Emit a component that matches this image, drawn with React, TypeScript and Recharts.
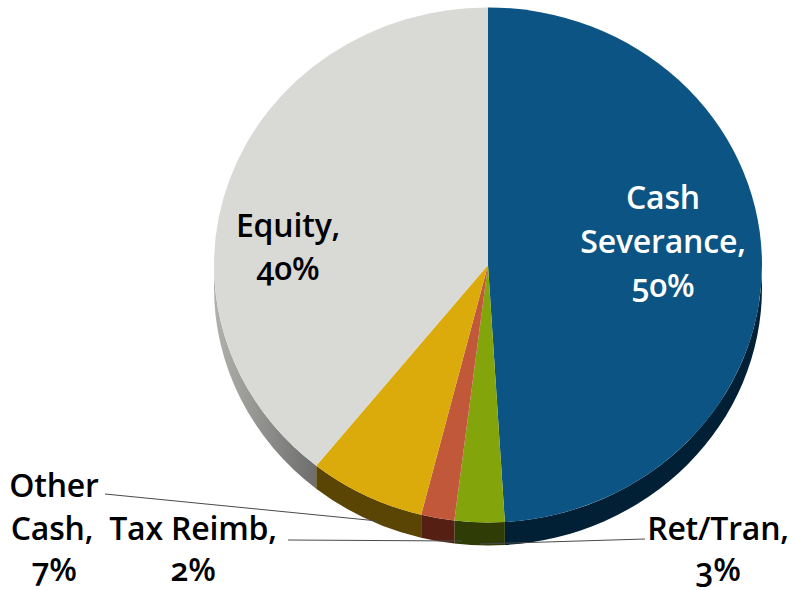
import { Pie, PieChart } from "recharts";

const categories = ["Cash Severance", "Ret/Tran", "Tax Reimb", "Other Cash", "Equity"];
const shares = [50, 3, 2, 7, 40];
const topColors = ["#0b5483", "#84a40c", "#c1583a", "#dbab0b", "#d9d9d5"];
const wallColors = ["#012036", "#2f3c05", "#552013", "#5b4505", "url(#equityWall)"];

const rows = categories.map((name, i) => ({
  name,
  value: shares[i],
  top: topColors[i],
  wall: wallColors[i],
}));

// the pie is tilted, so the face is squashed a little and sits on a thin wall
const SQUASH = 0.94;
const DEPTH = 23;
const RAD = Math.PI / 180;

function rim(cx: number, cy: number, r: number, deg: number, drop = 0) {
  return [cx + r * Math.cos(deg * RAD), cy - r * SQUASH * Math.sin(deg * RAD) + drop];
}

function FaceSlice(props: any) {
  const { cx, cy, outerRadius: r, startAngle, endAngle, payload } = props;
  const [x1, y1] = rim(cx, cy, r, startAngle);
  const [x2, y2] = rim(cx, cy, r, endAngle);
  const large = Math.abs(startAngle - endAngle) > 180 ? 1 : 0;
  const d = `M${cx},${cy}L${x1},${y1}A${r},${r * SQUASH} 0 ${large} 1 ${x2},${y2}Z`;
  return <path d={d} fill={payload.top} />;
}

// only the part of the rim facing the viewer (180..360 deg) shows a wall
function WallSlice(props: any) {
  const { cx, cy, outerRadius: r, startAngle, endAngle, payload } = props;
  const ranges: [number, number][] = [
    [startAngle, endAngle],
    [startAngle + 360, endAngle + 360],
  ];
  return (
    <g>
      {ranges.map(([hi, lo], i) => {
        const a = Math.min(hi, 360);
        const b = Math.max(lo, 180);
        if (a <= b) return null;
        const [x1, y1] = rim(cx, cy, r, a);
        const [x2, y2] = rim(cx, cy, r, b);
        const rx = r;
        const ry = r * SQUASH;
        const d = `M${x1},${y1}A${rx},${ry} 0 0 1 ${x2},${y2}L${x2},${y2 + DEPTH}A${rx},${ry} 0 0 0 ${x1},${y1 + DEPTH}Z`;
        return <path key={i} d={d} fill={payload.wall} />;
      })}
    </g>
  );
}

// text lines and leader for each slice, relative to the pie centre
const labelLayout = [
  { color: "#fff", lines: [["Cash", 175, -56], ["Severance,", 175, -12], ["50%", 175, 32]] },
  { color: "#000", lines: [["Ret/Tran,", 230, 275], ["3%", 230, 316]], leader: [157, 274, -8, 279] },
  { color: "#000", lines: [["Tax Reimb,", -295, 275], ["2%", -295, 316]], leader: [-200, 275, -26, 276] },
  { color: "#000", lines: [["Other", -434, 232], ["Cash,", -436, 275], ["7%", -434, 316]], leader: [-383, 229, -110, 256] },
  { color: "#000", lines: [["Equity,", -200, -28], ["40%", -200, 15]] },
];

function SliceLabel(props: any) {
  const { cx, cy, index } = props;
  const item = labelLayout[index];
  return (
    <g>
      {item.leader && (
        <line
          x1={cx + item.leader[0]}
          y1={cy + item.leader[1]}
          x2={cx + item.leader[2]}
          y2={cy + item.leader[3]}
          stroke="#4a4a4a"
          strokeWidth={1}
        />
      )}
      {item.lines.map(([text, dx, dy]: any) => (
        <text
          key={text}
          x={cx + dx}
          y={cy + dy}
          textAnchor="middle"
          fill={item.color}
          style={{
            fontFamily: "'Open Sans', sans-serif",
            fontWeight: 600,
            fontSize: 32,
            letterSpacing: -0.2,
            fontVariantNumeric: "oldstyle-nums",
          }}
        >
          {text}
        </text>
      ))}
    </g>
  );
}

export default function App() {
  return (
    <div style={{ position: "absolute", left: 0, top: 0, width: 792, height: 590, background: "#fff" }}>
      <PieChart width={792} height={590} margin={{ top: 0, right: 0, bottom: 0, left: 0 }}>
        <defs>
          <linearGradient id="equityWall" gradientUnits="userSpaceOnUse" x1="215" y1="0" x2="330" y2="0">
            <stop offset="0" stopColor="#b0b0ac" />
            <stop offset="1" stopColor="#646464" />
          </linearGradient>
        </defs>
        <Pie
          data={rows}
          dataKey="value"
          cx={488}
          cy={265}
          outerRadius={274}
          startAngle={90}
          endAngle={-270}
          stroke="none"
          shape={WallSlice}
          isAnimationActive={false}
        />
        <Pie
          data={rows}
          dataKey="value"
          cx={488}
          cy={265}
          outerRadius={274}
          startAngle={90}
          endAngle={-270}
          stroke="none"
          shape={FaceSlice}
          label={SliceLabel}
          labelLine={false}
          isAnimationActive={false}
        />
      </PieChart>
    </div>
  );
}
